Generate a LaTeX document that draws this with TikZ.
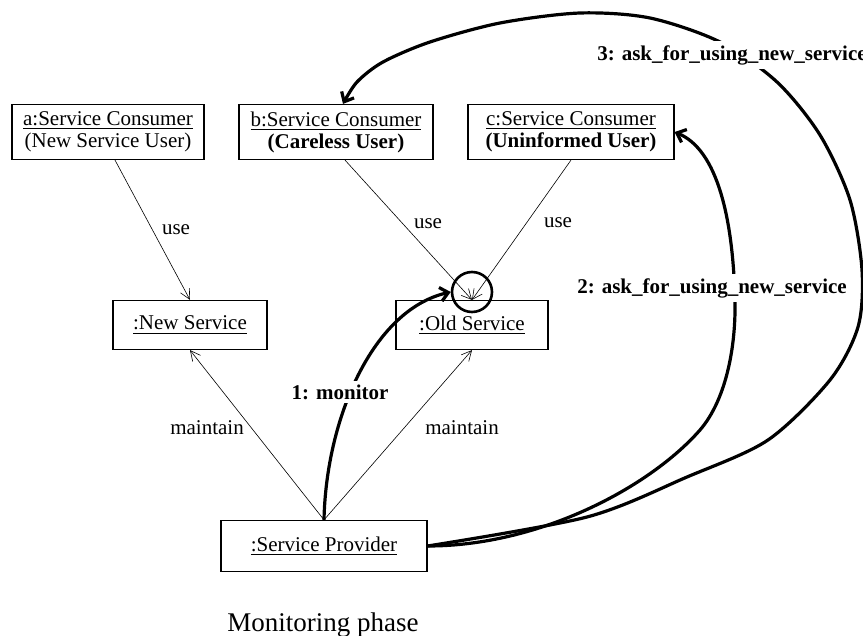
\documentclass[tikz,border=0pt]{standalone}
\usepackage{fontspec}
\setmainfont{Liberation Serif}
\usetikzlibrary{arrows.meta}
\tikzset{
 obj/.style={draw,line width=.6pt,align=center,inner sep=0pt,font=\fontsize{10.5}{11}\selectfont},
 uses/.style={line width=.3pt,-{Straight Barb[length=5pt,width=5pt]}},
 msg/.style={line width=1.6pt,-{Straight Barb[length=4pt,width=7pt]}},
 lbl/.style={font=\fontsize{10.5}{12}\selectfont,anchor=base},
 msglbl/.style={font=\fontsize{10.5}{12}\selectfont\bfseries,fill=white,inner sep=2pt}
}
\begin{document}
\begin{tikzpicture}[x=.5pt,y=-.5pt]
 \useasboundingbox (0,0) rectangle (863,636);
 \node[obj,minimum width=96pt,minimum height=27.5pt] (a) at (108,132) {\underline{a:Service Consumer}\\(New Service User)};
 \node[obj,minimum width=97pt,minimum height=27.5pt] (b) at (336,132) {\underline{b:Service Consumer}\\\textbf{(Careless User)}};
 \node[obj,minimum width=103pt,minimum height=27.5pt] (c) at (571,132) {\underline{c:Service Consumer}\\\textbf{(Uninformed User)}};
 \node[obj,minimum width=77pt,minimum height=24.5pt] (new) at (190,325) {\underline{:New Service}};
 \node[obj,minimum width=76pt,minimum height=24.5pt] (old) at (472,325) {\underline{:Old Service}};
 \node[obj,minimum width=103pt,minimum height=25.5pt] (prov) at (324,546) {\underline{:Service Provider}};
 \node[circle,draw,line width=1.3pt,minimum size=20pt,inner sep=0pt] (spot) at (472,292) {};
 \draw[uses] ([xshift=3.5pt]a.south) -- (new.north);
 \draw[uses] ([xshift=4.5pt]b.south) -- (old.north);
 \draw[uses] (c.south) -- (old.north);
 \draw[uses] (prov.north) -- (new.south);
 \draw[uses] (prov.north) -- (old.south);
 \node[lbl] (use1) at (176,235) {use};
 \node[lbl] (use2) at (428,229) {use};
 \node[lbl] (use3) at (558,228) {use};
 \node[lbl] (keep1) at (207,435) {maintain};
 \node[lbl] (keep2) at (462,435) {maintain};
 % numbered messages
 \draw[msg] (prov.north) .. controls (326,420) and (372,310) .. (spot.west);
 \draw[msg] (prov.east) .. controls (540,546) and (650,487) .. (700,430) .. controls (725,401) and (736,350) .. (735,300) .. controls (733,220) and (718,150) .. (c.east);
 \draw[msg] plot[smooth] coordinates {(prov.east)(587,517)(687,477)(768,440)(830,380)(858,327)(862,270)(850,200)(820,135)(777,82)(720,42)(650,18)(580,13)(500,23)(430,42)(383,62)(357,82)([xshift=3.5pt]b.north)};
 \node[msglbl] (m1) at (340,392) {1: monitor};
 \node[msglbl] (m2) at (712,288) {2: ask\_for\_using\_new\_service};
 \node[msglbl] (m3) at (732,55) {3: ask\_for\_using\_new\_service};
 \node[font=\fontsize{13.5}{16}\selectfont,anchor=base] (phase) at (323,631) {Monitoring phase};
\end{tikzpicture}
\end{document}
